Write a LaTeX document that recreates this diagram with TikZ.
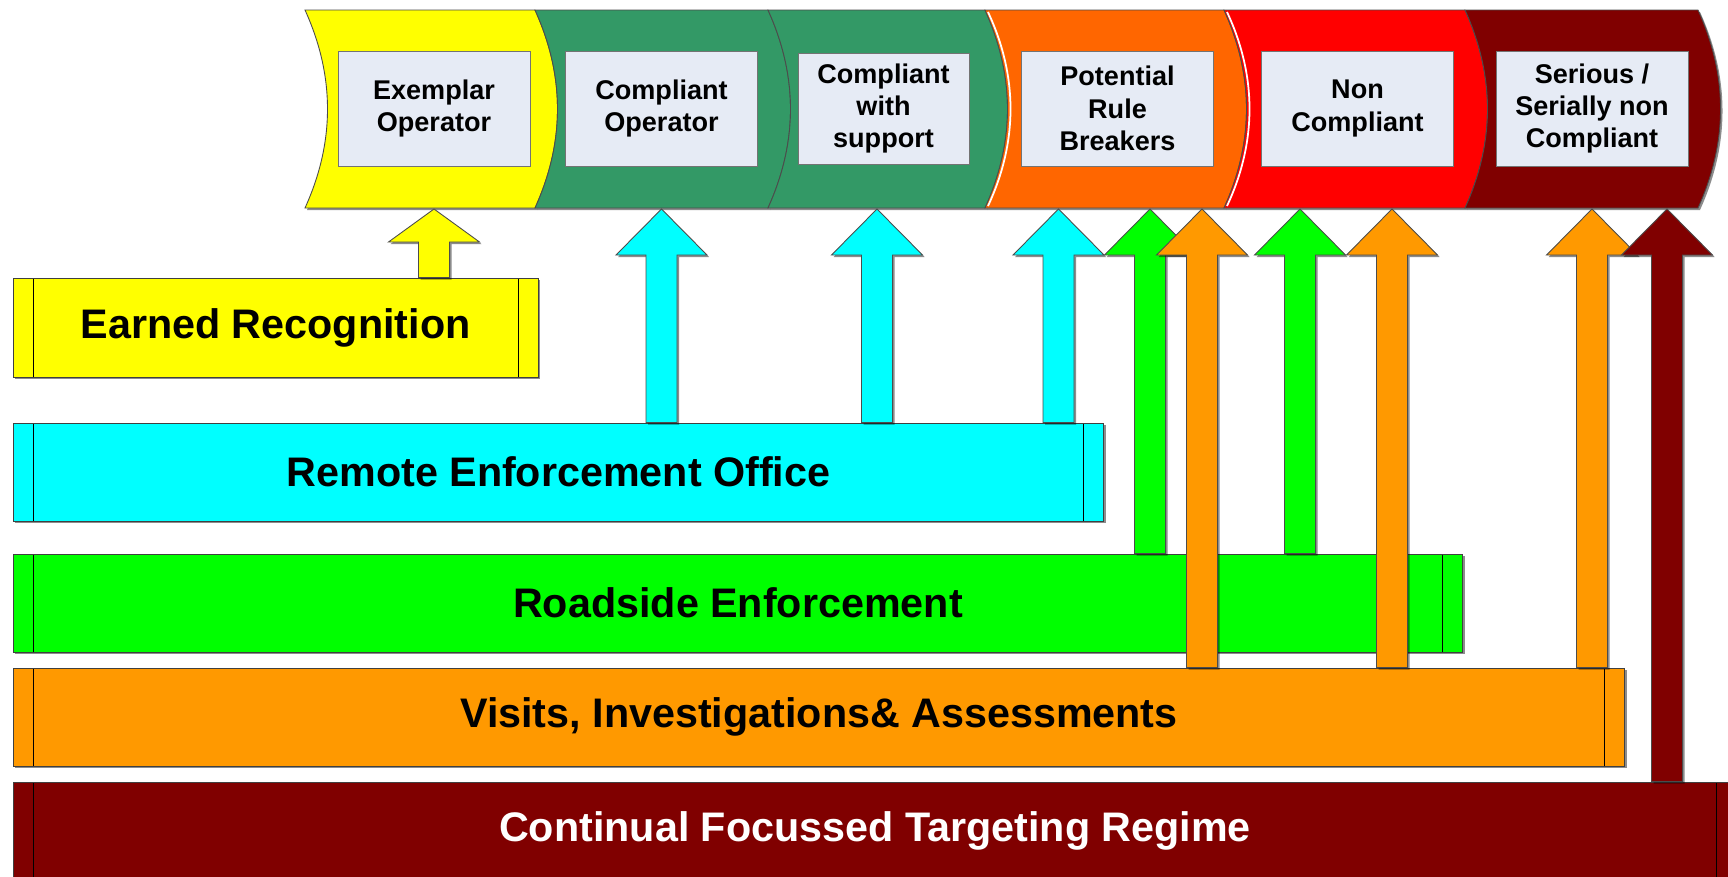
\documentclass[tikz,border=0pt]{standalone}
\usepackage{fontspec}
\setmainfont{Liberation Sans}
\usepackage{tikz}
\usetikzlibrary{shadows}
\definecolor{sgreen}{RGB}{51,153,102}
\definecolor{segorange}{RGB}{255,102,0}
\definecolor{dred}{RGB}{128,0,0}
\definecolor{barorange}{RGB}{255,153,0}
\definecolor{lav}{RGB}{230,235,245}
\definecolor{pcyan}{RGB}{0,255,255}
\definecolor{pyellow}{RGB}{255,255,0}
\definecolor{pgreen}{RGB}{0,255,0}
\definecolor{pred}{RGB}{255,0,0}
\newcommand{\biglbl}{\fontsize{23.5}{28}\selectfont\bfseries}
\newcommand{\smlbl}{\fontsize{15.4}{18.4}\selectfont\bfseries}
\tikzset{
  shd/.style={drop shadow={shadow xshift=0.04cm, shadow yshift=-0.04cm,
              fill=black, opacity=0.45}},
  stageseg/.style={draw=black!70, line width=0.5pt, shd},
  stagebox/.style={draw=black!55, fill=lav, align=center, font=\smlbl,
                   minimum width=3.84cm, minimum height=2.3cm, inner sep=2pt},
  lvlbar/.style={draw=black!75, line width=0.5pt, font=\biglbl, shd,
                 minimum height=1.96cm, inner sep=0pt,
                 path picture={
                   \draw[black, line width=0.5pt]
                     ([xshift=0.4cm]path picture bounding box.north west) --
                     ([xshift=0.4cm]path picture bounding box.south west);
                   \draw[black, line width=0.5pt]
                     ([xshift=-0.4cm]path picture bounding box.north east) --
                     ([xshift=-0.4cm]path picture bounding box.south east);}},
  barr/.style={draw=black!70, line width=0.5pt, shd},
}
% block arrow: fill, x, source bar, head base
\newcommand{\blockarr}[4]{%
  \path[barr, fill=#1] (#2-15.5,0 |- #3.north) -- (#2-15.5,0 |- #4)
    -- (#2-45.5,0 |- #4) -- (#2,0 |- bb) -- (#2+45.5,0 |- #4)
    -- (#2+15.5,0 |- #4) -- (#2+15.5,0 |- #3.north) -- cycle;}

\begin{document}
\begin{tikzpicture}[x=0.02cm, y=-0.02cm]
  \path[fill=white, use as bounding box] (0,0) rectangle (1728,876);
  % stages
  \foreach \l/\r/\c in {305/535/pyellow, 535/768/sgreen, 768/985/sgreen,
                        985/1224/segorange, 1224/1465/pred, 1465/1698/dred}
    \path[stageseg, fill=\c] (\l,10) -- (\r,10)
      .. controls (\r+30,76) and (\r+30,142) .. (\r,208) -- (\l,208)
      .. controls (\l+30,142) and (\l+30,76) .. (\l,10) -- cycle;
  \foreach \l in {985,1224}
    \draw[white, line width=1pt] (\l+3,12) .. controls (\l+33,76) and (\l+33,142) .. (\l+3,206);
  \node[stagebox] (ex) at (434,108.5) {Exemplar\\Operator};
  \node[stagebox] (co) at (661.5,108.5) {Compliant\\Operator};
  \node[stagebox, minimum width=3.42cm, minimum height=2.22cm] (cs) at (883.5,108.5) {Compliant\\with\\support};
  \node[stagebox] (pr) at (1117.5,108.5) {Potential\\Rule\\Breakers};
  \node[stagebox] (nc) at (1357.5,108.5) {Non\\Compliant};
  \node[stagebox] (sc) at (1592,108.5) {Serious /\\Serially non\\Compliant};
  \coordinate (bb) at (0,209);
  \coordinate (hb) at (0,255);
  \coordinate (hby) at (0,242);
  % enforcement levels
  \node[lvlbar, fill=pyellow, minimum width=10.5cm, minimum height=1.98cm] (er) at (275.5,327.5) {Earned Recognition};
  \node[lvlbar, fill=pcyan, minimum width=21.82cm] (reo) at (558.5,472) {Remote Enforcement Office};
  \node[lvlbar, fill=pgreen, minimum width=29cm] (rse) at (738,603) {Roadside Enforcement};
  \node[lvlbar, fill=barorange, minimum width=32.24cm] (via) at (819,717) {Visits, Investigations\& Assessments};
  \node[lvlbar, fill=dred, text=white, minimum width=34.48cm] (cft) at (875,831) {Continual Focussed Targeting Regime};
  % arrows
  \blockarr{pyellow}{434}{er}{hby}
  \foreach \x in {661.5,877,1058.5} {\blockarr{pcyan}{\x}{reo}{hb}}
  \foreach \x in {1150,1300} {\blockarr{pgreen}{\x}{rse}{hb}}
  \foreach \x in {1202,1392,1592} {\blockarr{barorange}{\x}{via}{hb}}
  \blockarr{dred}{1667}{cft}{hb}
\end{tikzpicture}
\end{document}
